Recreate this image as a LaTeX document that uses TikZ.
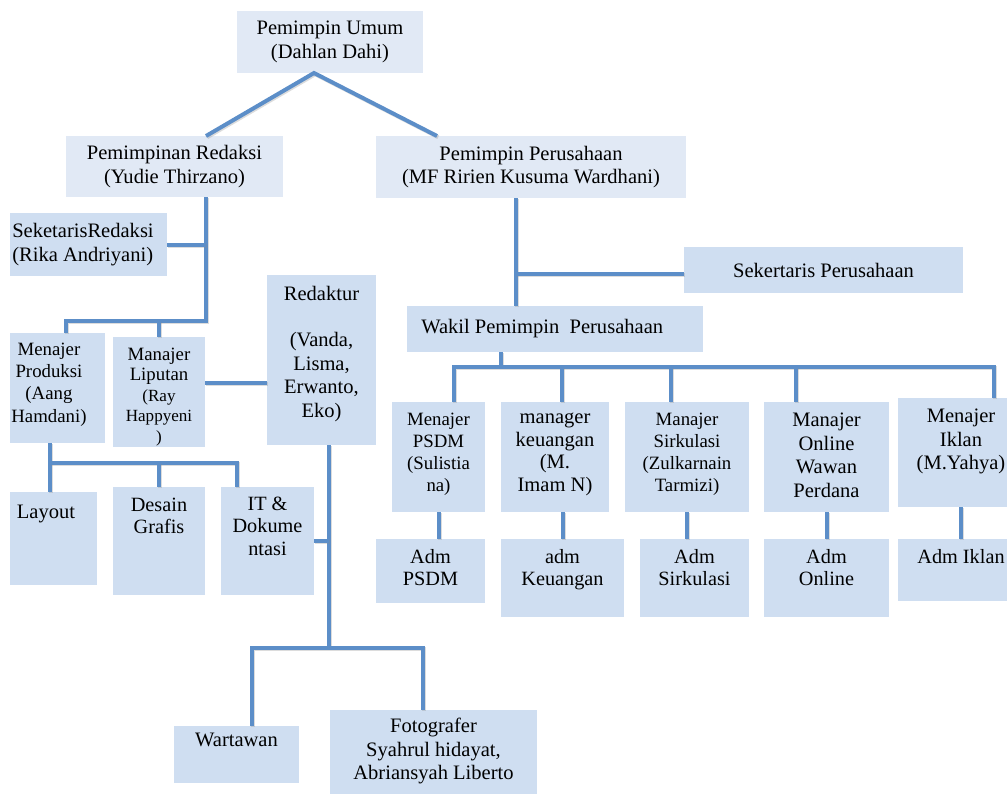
\documentclass[tikz,border=0pt]{standalone}
\usepackage{fontspec}
\setmainfont{Liberation Serif}
\usetikzlibrary{positioning,fit}

\definecolor{boxlite}{RGB}{225,233,245}
\definecolor{boxfill}{RGB}{207,222,241}
\definecolor{linkblue}{RGB}{92,142,200}

\newcommand{\fsbig}{\fontsize{15.4}{17.7}\selectfont}
\newcommand{\fstight}{\fontsize{15.2}{16.6}\selectfont}
\newcommand{\fssmall}{\fontsize{14.1}{16.6}\selectfont}
\newcommand{\fstiny}{\fontsize{12.8}{15}\selectfont}

\begin{document}
\begin{tikzpicture}[
    x=0.75pt, y=-0.75pt,
    box/.style={fill=boxfill, inner sep=0pt, outer sep=0pt},
    litebox/.style={box, fill=boxlite},
    txt/.style={inner sep=0pt, align=center, font=\fsbig},
    tight/.style={txt, font=\fstight},
    small/.style={txt, font=\fssmall},
    link/.style={draw=linkblue, line width=3pt,
      preaction={draw=black!45, opacity=0.3, line width=3pt,
        transform canvas={shift={(0.9pt,-0.9pt)}}}}
  ]

  \clip (0,0) rectangle (1007,793);
  \fill[white] (0,0) rectangle (1007,793);

  % pimpinan
  \node[litebox, fit={(237,11) (423,73)}] (umum) {};
  \node[txt] (umum-t) at (umum) {Pemimpin Umum\\(Dahlan Dahi)};
  \node[litebox, fit={(66,136) (283,197)}] (redaksi) {};
  \node[txt] (redaksi-t) at (redaksi) {Pemimpinan Redaksi\\(Yudie Thirzano)};
  \node[litebox, fit={(376,136) (686,198)}] (perusahaan) {};
  \node[txt] (perusahaan-t) at (perusahaan) {Pemimpin Perusahaan\\(MF Ririen Kusuma Wardhani)};

  % redaksi
  \node[box, fit={(10,213) (167,276)}] (seketaris) {};
  \node[txt, align=left, right=1.5pt of seketaris.west] (seketaris-t) {SeketarisRedaksi\\(Rika Andriyani)};
  \node[box, fit={(10,333) (105,443)}] (produksi) {};
  \node[small, below=7.5pt of produksi.north, xshift=-6.4pt] (produksi-t) {Menajer\\Produksi\\(Aang\\Hamdani)};
  \node[box, fit={(113,337) (205,447)}] (liputan) {};
  \node[txt, font=\fontsize{14.1}{15.4}\selectfont, below=8pt of liputan.north] (liputan-t)
    {Manajer\\Liputan\\{\fstiny (Ray}\\{\fstiny Happyeni}\\{\fstiny )}};
  \node[box, fit={(267,275) (376,445)}] (redaktur) {};
  \node[txt, below=8pt of redaktur.north] (redaktur-t) {Redaktur\\[17pt](Vanda,\\Lisma,\\Erwanto,\\Eko)};
  \node[box, fit={(10,492) (97,585)}] (layout) {};
  \node[txt, below=9.5pt of layout.north, xshift=-5.6pt] (layout-t) {Layout};
  \node[box, fit={(113,487) (205,595)}] (desain) {};
  \node[tight, below=8pt of desain.north] (desain-t) {Desain\\Grafis};
  \node[box, fit={(221,487) (314,595)}] (it) {};
  \node[tight, below=7.5pt of it.north] (it-t) {IT \&\\Dokume\\ntasi};
  \node[box, fit={(174,726) (299,783)}] (wartawan) {};
  \node[txt, below=5.3pt of wartawan.north] (wartawan-t) {Wartawan};
  \node[box, fit={(330,710) (537,800)}] (foto) {};
  \node[txt, below=6pt of foto.north] (foto-t) {Fotografer\\Syahrul hidayat,\\Abriansyah Liberto};

  % perusahaan
  \node[box, fit={(684,247) (963,293)}] (sekper) {};
  \node[txt] (sekper-t) at (sekper) {Sekertaris Perusahaan};
  \node[box, fit={(407,306) (703,352)}] (wakil) {};
  \node[txt, right=10.5pt of wakil.west] (wakil-t) {Wakil Pemimpin\ \ Perusahaan};

  \node[box, fit={(392,402) (485,512)}] (psdm) {};
  \node[small, below=8pt of psdm.north] (psdm-t) {Menajer\\PSDM\\(Sulistia\\na)};
  \node[box, fit={(501,402) (609,512)}] (keu) {};
  \node[txt, font=\fontsize{15.4}{17}\selectfont, below=8pt of keu.north] (keu-t) {manager\\keuangan\\(M.\\Imam N)};
  \node[box, fit={(625,402) (749,512)}] (sirk) {};
  \node[small, below=8pt of sirk.north] (sirk-t) {Manajer\\Sirkulasi\\(Zulkarnain\\Tarmizi)};
  \node[box, fit={(764,402) (889,512)}] (onl) {};
  \node[txt, below=8pt of onl.north] (onl-t) {Manajer\\Online\\Wawan\\Perdana};
  \node[box, fit={(898,398) (1024,507)}] (iklan) {};
  \node[txt, below=8pt of iklan.north] (iklan-t) {Menajer\\Iklan\\(M.Yahya)};

  \node[box, fit={(376,539) (485,603)}] (admpsdm) {};
  \node[tight, below=7.5pt of admpsdm.north] (admpsdm-t) {Adm\\PSDM};
  \node[box, fit={(501,539) (624,617)}] (admkeu) {};
  \node[tight, below=7.5pt of admkeu.north] (admkeu-t) {adm\\Keuangan};
  \node[box, fit={(640,539) (749,617)}] (admsirk) {};
  \node[tight, below=7.5pt of admsirk.north] (admsirk-t) {Adm\\Sirkulasi};
  \node[box, fit={(764,539) (889,617)}] (admonl) {};
  \node[tight, below=7.5pt of admonl.north] (admonl-t) {Adm\\Online};
  \node[box, fit={(898,539) (1024,601)}] (admiklan) {};
  \node[tight, below=7.5pt of admiklan.north] (admiklan-t) {Adm Iklan};

  % garis
  \coordinate (apex) at (314,73);
  \coordinate (redtrunk) at (206,321);
  \coordinate (perpeak) at (437,136);
  \draw[link] (redaksi.north -| redtrunk) -- (apex) -- (perpeak);

  \coordinate (prodtop) at (66,321);
  \coordinate (liptop) at (159,321);
  \coordinate (lipred) at (205,383);
  \draw[link] (redaksi.south -| redtrunk) -- (redtrunk) -- (prodtop) -- (prodtop |- produksi.north);
  \draw[link] (liptop) -- (liptop |- liputan.north);
  \draw[link] (seketaris.east) -- (seketaris.east -| redtrunk);
  \draw[link] (lipred) -- (lipred -| redaktur.west);

  \coordinate (prodbar) at (50,463);
  \coordinate (desdrop) at (159,463);
  \coordinate (itdrop) at (237,463);
  \draw[link] (prodbar |- produksi.south) -- (prodbar |- layout.north);
  \draw[link] (prodbar) -- (itdrop) -- (itdrop |- it.north);
  \draw[link] (desdrop) -- (desdrop |- desain.north);

  \coordinate (redakbar) at (329,648);
  \coordinate (wardrop) at (252,648);
  \coordinate (fotdrop) at (423,648);
  \draw[link] (redakbar |- redaktur.south) -- (redakbar);
  \draw[link] (it.east) -- (it.east -| redakbar);
  \draw[link] (wardrop |- wartawan.north) -- (wardrop) -- (fotdrop) -- (fotdrop |- foto.north);

  \coordinate (pertrunk) at (516,274);
  \draw[link] (pertrunk |- perusahaan.south) -- (pertrunk |- wakil.north);
  \draw[link] (pertrunk) -- (pertrunk -| sekper.west);

  \coordinate (wakbar) at (501,367);
  \coordinate (d-psdm) at (454,367);
  \coordinate (d-keu) at (562,367);
  \coordinate (d-sirk) at (671,367);
  \coordinate (d-onl) at (796,367);
  \coordinate (d-iklan) at (994,367);
  \draw[link] (wakbar |- wakil.south) -- (wakbar);
  \draw[link] (d-psdm |- psdm.north) -- (d-psdm) -- (d-iklan) -- (d-iklan |- iklan.north);
  \foreach \n in {keu,sirk,onl}
    \draw[link] (d-\n) -- (d-\n |- \n.north);

  \draw[link] (psdm.south) -- (psdm.south |- admpsdm.north);
  \draw[link] (admkeu.north |- keu.south) -- (admkeu.north);
  \draw[link] (sirk.south) -- (sirk.south |- admsirk.north);
  \draw[link] (onl.south) -- (admonl.north);
  \draw[link] (iklan.south) -- (admiklan.north);
\end{tikzpicture}
\end{document}
